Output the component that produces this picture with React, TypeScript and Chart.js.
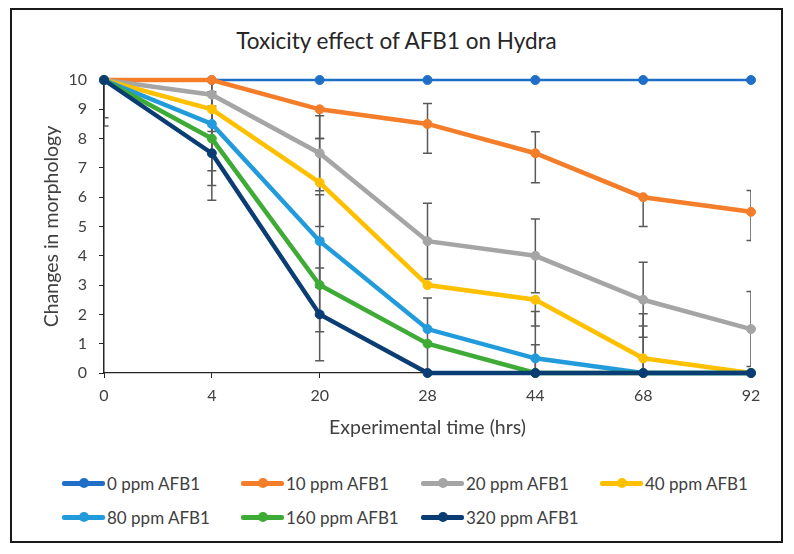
import { useEffect, useRef } from "react";
import { Chart, registerables, type Plugin } from "chart.js";

Chart.register(...registerables);

// time points (hrs), equally spaced categories
const hours = ["0", "4", "20", "28", "44", "68", "92"];
const yTicks = [0, 1, 2, 3, 4, 5, 6, 7, 8, 9, 10];

const names = [
  "0 ppm AFB1",
  "10 ppm AFB1",
  "20 ppm AFB1",
  "40 ppm AFB1",
  "80 ppm AFB1",
  "160 ppm AFB1",
  "320 ppm AFB1",
];
const colors = ["#1f6fc6", "#f47d2a", "#a5a5a5", "#ffc000", "#229bdc", "#3fab37", "#0a3d73"];

const ppm0 = [10, 10, 10, 10, 10, 10, 10];
const ppm10 = [10, 10, 9, 8.5, 7.5, 6, 5.5];
const ppm20 = [10, 9.5, 7.5, 4.5, 4, 2.5, 1.5];
const ppm40 = [10, 9, 6.5, 3, 2.5, 0.5, 0];
const ppm80 = [10, 8.5, 4.5, 1.5, 0.5, 0, 0];
const ppm160 = [10, 8, 3, 1, 0, 0, 0];
const ppm320 = [10, 7.5, 2, 0, 0, 0, 0];

// error bars: upper / lower extent
const err0Up = [0, 0, 0, 0, 0, 0, 0];
const err0Down = [0, 0, 0, 0, 0, 0, 0];
const err10Up = [0, 0, 0, 0.7, 0.73, 0, 0.73];
const err10Down = [0, 0, 1, 1, 1.01, 1, 0.98];
const err20Up = [1.29, 1.26, 1.28, 1.29, 1.26, 1.28, 1.28];
const err20Down = [1.29, 1.26, 1.28, 1.29, 1.26, 1.28, 1.28];
const err40Up = [0, 0, 1.5, 0, 0, 1.1, 0];
const err40Down = [0, 0, 1.5, 0, 0.9, 0.5, 0];
const err80Up = [0, 1.6, 1.58, 0, 1.6, 2.02, 0];
const err80Down = [1.57, 1.6, 1.58, 0, 1.6, 0, 0];
const err160Up = [0, 1.6, 1.59, 1.56, 0.96, 0, 0];
const err160Down = [0, 1.6, 1.59, 1.56, 0.96, 0, 0];
const err320Up = [0, 1.6, 1.58, 0, 0, 0, 0];
const err320Down = [0, 1.6, 1.58, 0, 0, 0, 0];

const values = [ppm0, ppm10, ppm20, ppm40, ppm80, ppm160, ppm320];
const errUps = [err0Up, err10Up, err20Up, err40Up, err80Up, err160Up, err320Up];
const errDowns = [err0Down, err10Down, err20Down, err40Down, err80Down, err160Down, err320Down];

const FONT = "Lato, 'Open Sans', sans-serif";
const TEXT = "#404040";

/** Excel-style error bars, clipped to the plot area. */
const errorBars: Plugin<"line"> = {
  id: "errorBars",
  beforeDatasetsDraw(chart) {
    const { ctx, chartArea, scales } = chart;
    const y = scales.y;
    ctx.save();
    ctx.beginPath();
    ctx.rect(chartArea.left, chartArea.top, chartArea.right - chartArea.left, chartArea.bottom - chartArea.top);
    ctx.clip();
    ctx.strokeStyle = "#595959";
    ctx.lineWidth = 1.5;
    chart.data.datasets.forEach((ds: any, i) => {
      const meta = chart.getDatasetMeta(i);
      (ds.data as number[]).forEach((v, j) => {
        const up = ds.errUp?.[j] ?? 0;
        const down = ds.errDown?.[j] ?? 0;
        if (!up && !down) return;
        const x = meta.data[j].x;
        const yTop = y.getPixelForValue(v + up);
        const yBot = y.getPixelForValue(v - down);
        ctx.beginPath();
        ctx.moveTo(x, yTop);
        ctx.lineTo(x, yBot);
        if (up) {
          ctx.moveTo(x - 4.5, yTop);
          ctx.lineTo(x + 4.5, yTop);
        }
        if (down) {
          ctx.moveTo(x - 4.5, yBot);
          ctx.lineTo(x + 4.5, yBot);
        }
        ctx.stroke();
      });
    });
    ctx.restore();
  },
};

function LegendItem({ name, color, left, top }: { name: string; color: string; left: number; top: number }) {
  return (
    <div style={{ position: "absolute", left, top: top - 12, height: 24, display: "flex", alignItems: "center" }}>
      <div style={{ position: "relative", width: 43, height: 24 }}>
        <div style={{ position: "absolute", left: 0, right: 0, top: 10, height: 4.5, background: color, borderRadius: 2 }} />
        <div
          style={{
            position: "absolute",
            left: 16.5,
            top: 7,
            width: 10,
            height: 10,
            borderRadius: "50%",
            background: color,
          }}
        />
      </div>
      <span style={{ marginLeft: 2, font: `17px ${FONT}`, color: TEXT, whiteSpace: "nowrap" }}>{name}</span>
    </div>
  );
}

export default function App() {
  const ref = useRef<HTMLCanvasElement>(null);

  useEffect(() => {
    if (!ref.current) return;
    const chart = new Chart(ref.current, {
      type: "line",
      data: {
        labels: hours,
        datasets: names.map((name, i) => ({
          label: name,
          data: values[i],
          errUp: errUps[i],
          errDown: errDowns[i],
          borderColor: colors[i],
          backgroundColor: colors[i],
          borderWidth: i === 0 ? 2.5 : 4.5,
          pointRadius: 4.5,
          pointBorderWidth: 1,
          pointBorderColor: colors[i],
          pointBackgroundColor: colors[i],
          tension: 0,
          clip: false,
          order: names.length - 1 - i,
        })) as any,
      },
      options: {
        responsive: true,
        maintainAspectRatio: false,
        animation: false,
        layout: { padding: { top: 70, right: 30, bottom: 0, left: 0 } },
        plugins: {
          legend: { display: false },
          tooltip: { enabled: false },
        },
        scales: {
          x: {
            type: "category",
            offset: false,
            grid: { drawOnChartArea: false, drawTicks: true, tickLength: 5, color: "#262626" },
            border: { color: "#262626", width: 1.2 },
            ticks: { color: TEXT, padding: 8, font: { family: FONT, size: 16 } },
            title: {
              display: true,
              text: "Experimental time (hrs)",
              color: TEXT,
              font: { family: FONT, size: 19.5 },
              padding: { top: 0, bottom: 21 },
            },
            afterFit: (s) => {
              s.height = 87;
            },
          },
          y: {
            min: 0,
            max: 10,
            afterBuildTicks: (s) => {
              s.ticks = yTicks.map((v) => ({ value: v }));
            },
            grid: { drawOnChartArea: false, drawTicks: true, tickLength: 5, color: "#262626" },
            border: { color: "#262626", width: 1.5 },
            ticks: { color: TEXT, padding: 12, font: { family: FONT, size: 16 } },
            title: {
              display: true,
              text: "Changes in morphology",
              color: TEXT,
              font: { family: FONT, size: 19.5 },
              padding: { top: 28, bottom: 0 },
            },
            afterFit: (s) => {
              s.width = 92;
            },
          },
        },
      },
      plugins: [errorBars],
    });
    return () => chart.destroy();
  }, []);

  const cols = [50, 229, 409, 588];
  const rows = [473, 507];

  return (
    <div
      style={{
        position: "relative",
        marginLeft: 2,
        width: 773,
        height: 535,
        border: "2px solid #1a1a1a",
        boxSizing: "border-box",
        background: "#fff",
      }}
    >
      <div
        style={{
          position: "absolute",
          left: 0,
          right: 0,
          top: 17,
          textAlign: "center",
          font: `22.5px ${FONT}`,
          lineHeight: "27px",
          color: "#262626",
        }}
      >
        Toxicity effect of AFB1 on Hydra
      </div>
      <div style={{ position: "absolute", left: 0, top: 0, width: 769, height: 450 }}>
        <canvas ref={ref} />
      </div>
      {names.map((n, i) => (
        <LegendItem key={n} name={n} color={colors[i]} left={cols[i % 4]} top={rows[Math.floor(i / 4)]} />
      ))}
    </div>
  );
}
